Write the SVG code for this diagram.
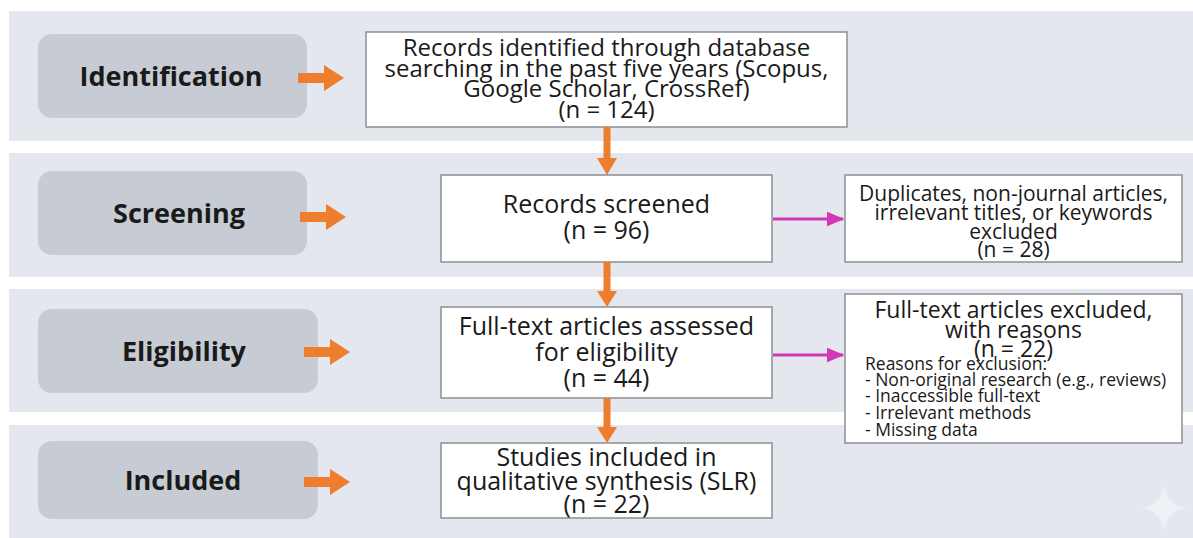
<svg xmlns="http://www.w3.org/2000/svg" xmlns:xlink="http://www.w3.org/1999/xlink" width="1193" height="538" viewBox="0 0 1193 538">
<style>
.band{fill:#e4e7ed}
.stage{fill:#c7cbd3}
.stext{font-family:"Open Sans","Noto Sans",sans-serif;font-weight:bold;font-size:27px;fill:#1a1a1a;text-anchor:middle}
.box{fill:#ffffff;stroke:#8c8f95;stroke-width:1.5}
.t25{font-family:"Open Sans","Noto Sans",sans-serif;font-size:25px;fill:#1a1a1a;text-anchor:middle}
.t24{font-family:"Open Sans","Noto Sans",sans-serif;font-size:24px;fill:#1a1a1a;text-anchor:middle}
.t23{font-family:"Open Sans","Noto Sans",sans-serif;font-size:23px;fill:#1a1a1a;text-anchor:middle}
.t21{font-family:"Open Sans","Noto Sans",sans-serif;font-size:21px;fill:#1a1a1a;text-anchor:middle}
.t17{font-family:"Open Sans","Noto Sans",sans-serif;font-size:17.5px;fill:#1a1a1a}
.orange{fill:#ef7d2e}
.mag{stroke:#d336b6;stroke-width:3;fill:none}
</style>
<defs>
<path id="harrow" d="M0,-5 H26 V-13 L46,0 L26,13 V5 H0 Z"/>
<marker id="mhead" markerWidth="6" markerHeight="6" refX="5.5" refY="2.5" orient="auto" markerUnits="strokeWidth" viewBox="0 0 6 5">
<path d="M0,0 L6,2.5 L0,5 Z" fill="#d336b6"/>
</marker>
</defs>
<rect width="1193" height="538" fill="#ffffff"/>
<g id="bands">
<rect class="band" x="9" y="11" width="1184" height="130"/>
<rect class="band" x="9" y="153" width="1184" height="124"/>
<rect class="band" x="9" y="289" width="1184" height="123"/>
<rect class="band" x="9" y="425" width="1184" height="113"/>
</g>
<g id="stage-identification">
<rect class="stage" x="38" y="34" width="269" height="84" rx="14"/>
<text class="stext" x="171" y="86">Identification</text>
</g>
<g id="stage-screening">
<rect class="stage" x="38" y="171" width="269" height="84" rx="14"/>
<text class="stext" x="179" y="223">Screening</text>
</g>
<g id="stage-eligibility">
<rect class="stage" x="38" y="309" width="280" height="84" rx="14"/>
<text class="stext" x="184" y="361">Eligibility</text>
</g>
<g id="stage-included">
<rect class="stage" x="38" y="441" width="280" height="78" rx="14"/>
<text class="stext" x="183" y="490">Included</text>
</g>
<g id="box-identified">
<rect class="box" x="366" y="32" width="481" height="95"/>
<text class="t24" x="606.5" y="56">Records identified through database</text>
<text class="t24" x="606.5" y="76.5">searching in the past five years (Scopus,</text>
<text class="t24" x="606.5" y="97">Google Scholar, CrossRef)</text>
<text class="t24" x="606.5" y="117.5">(n = 124)</text>
</g>
<g id="box-screened">
<rect class="box" x="441" y="175" width="331" height="87"/>
<text class="t25" x="606.5" y="213">Records screened</text>
<text class="t25" x="606.5" y="239">(n = 96)</text>
</g>
<g id="box-excluded-1">
<rect class="box" x="845" y="175" width="337" height="87"/>
<text class="t21" x="1013.5" y="201">Duplicates, non-journal articles,</text>
<text class="t21" x="1013.5" y="220">irrelevant titles, or keywords</text>
<text class="t21" x="1013.5" y="239">excluded</text>
<text class="t21" x="1013.5" y="257">(n = 28)</text>
</g>
<g id="box-assessed">
<rect class="box" x="441" y="307" width="331" height="91"/>
<text class="t25" x="606.5" y="335">Full-text articles assessed</text>
<text class="t25" x="606.5" y="361">for eligibility</text>
<text class="t25" x="606.5" y="387">(n = 44)</text>
</g>
<g id="box-excluded-2">
<rect class="box" x="845" y="294" width="337" height="149"/>
<text class="t23" x="1013.5" y="318">Full-text articles excluded,</text>
<text class="t23" x="1013.5" y="338">with reasons</text>
<text class="t23" x="1013.5" y="357">(n = 22)</text>
<text class="t17" x="865" y="370">Reasons for exclusion:</text>
<text class="t17" x="865" y="386">- Non-original research (e.g., reviews)</text>
<text class="t17" x="865" y="402">- Inaccessible full-text</text>
<text class="t17" x="865" y="419">- Irrelevant methods</text>
<text class="t17" x="865" y="436">- Missing data</text>
</g>
<g id="box-included">
<rect class="box" x="441" y="443" width="331" height="75"/>
<text class="t25" x="606.5" y="466">Studies included in</text>
<text class="t25" x="606.5" y="490">qualitative synthesis (SLR)</text>
<text class="t25" x="606.5" y="513">(n = 22)</text>
</g>
<g id="connectors">
<use xlink:href="#harrow" href="#harrow" class="orange" x="298" y="78"/>
<use xlink:href="#harrow" href="#harrow" class="orange" x="300" y="217"/>
<use xlink:href="#harrow" href="#harrow" class="orange" x="304" y="352"/>
<use xlink:href="#harrow" href="#harrow" class="orange" x="304" y="482"/>
<path class="orange" d="M603.5,127 V158 H597 L607,175 L617,158 H610.5 V127 Z"/>
<path class="orange" d="M603.5,262 V291 H597 L607,307 L617,291 H610.5 V262 Z"/>
<path class="orange" d="M603.5,398 V427 H597 L607,443 L617,427 H610.5 V398 Z"/>
<line class="mag" x1="773" y1="219" x2="843" y2="219" marker-end="url(#mhead)"/>
<line class="mag" x1="773" y1="355" x2="843" y2="355" marker-end="url(#mhead)"/>
</g>
<path d="M1164,484 Q1167,505 1186,508 Q1167,511 1164,532 Q1161,511 1142,508 Q1161,505 1164,484 Z" fill="#f1f3f6" opacity="0.8"/>
</svg>
